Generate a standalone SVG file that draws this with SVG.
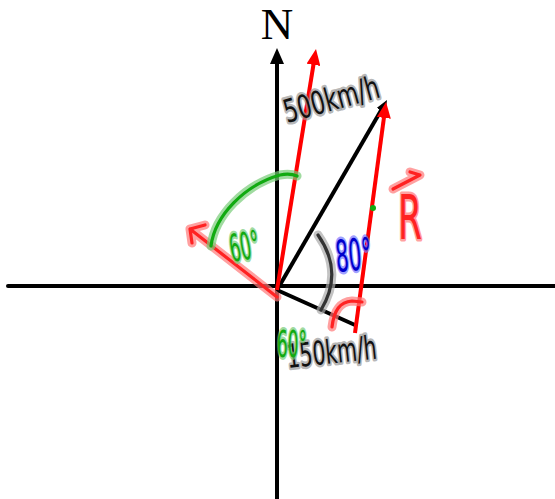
<svg xmlns="http://www.w3.org/2000/svg" width="555" height="499" viewBox="0 0 555 499">
<style>
.ax{stroke:#000;stroke-width:4;fill:none}
.vr{stroke:#f00;stroke-width:4;fill:none}
.vk{stroke:#000;stroke-width:4;fill:none}
.halo{fill:none;stroke-linecap:round;stroke-linejoin:round;stroke-width:9;stroke-opacity:0.7}
.ink{fill:none;stroke-linecap:round;stroke-linejoin:round;stroke-width:3.2}
.hw{font-family:"DejaVu Sans",sans-serif;paint-order:stroke;stroke-width:5;stroke-linejoin:round;stroke-opacity:0.7}
</style>
<defs>
<marker id="ahK" markerUnits="userSpaceOnUse" markerWidth="16" markerHeight="14" viewBox="0 0 16 14" refX="6" refY="7" orient="auto"><path d="M0,0 L16,7 L0,14 z" fill="#000"/></marker>
<marker id="ahKs" markerUnits="userSpaceOnUse" markerWidth="12" markerHeight="10" viewBox="0 0 12 10" refX="4" refY="5" orient="auto"><path d="M0,0 L12,5 L0,10 z" fill="#000"/></marker>
<marker id="ahR" markerUnits="userSpaceOnUse" markerWidth="16" markerHeight="14" viewBox="0 0 16 14" refX="6" refY="7" orient="auto"><path d="M0,0 L16,7 L0,14 z" fill="#f00"/></marker>
</defs>
<g id="axes">
<line class="ax" x1="8" y1="286" x2="555" y2="286" stroke-linecap="round"/>
<line class="ax" x1="277" y1="499" x2="277" y2="58" marker-end="url(#ahK)"/>
<text id="N" x="277" y="39" font-family="Liberation Serif,serif" font-size="45" text-anchor="middle">N</text>
</g>
<g id="connectors">
<line class="vk" x1="277" y1="290" x2="355" y2="325"/>
<line class="vk" x1="277" y1="290" x2="383" y2="107" marker-end="url(#ahKs)"/>
<line class="vr" x1="277" y1="290" x2="314.4" y2="58.9" marker-end="url(#ahR)"/>
<line class="vr" x1="355" y1="333" x2="384.7" y2="111.9" marker-end="url(#ahR)"/>
<circle cx="373" cy="208" r="3" fill="#1a1"/>
</g>
<g id="nw-arrow">
<path class="halo" stroke="#f77" d="M277,297 L190,229 M205,225 L190,229 L192,243"/>
<path class="ink" stroke="#f22" d="M277,297 L190,229 M205,225 L190,229 L192,243"/>
</g>
<g id="arcs">
<path class="halo" stroke="#7c7" d="M211,246 C215,215 245,185 280,175 Q290,173 297,176"/>
<path class="ink" stroke="#1a1" d="M211,246 C215,215 245,185 280,175 Q290,173 297,176"/>
<path class="halo" stroke="#aaa" d="M318,235 Q344,272 321,310"/>
<path class="ink" stroke="#333" d="M318,235 Q344,272 321,310"/>
<path class="halo" stroke="#f77" d="M332,327 C334,310 340,302 352,301 L362,302"/>
<path class="ink" stroke="#f22" d="M332,327 C334,310 340,302 352,301 L362,302"/>
</g>
<g id="labels">
<text class="hw" x="287" y="123" font-size="32" textLength="98" lengthAdjust="spacingAndGlyphs" fill="#111" stroke="#999" transform="rotate(-15.4 287 123)">500km/h</text>
<text class="hw" x="288" y="368" font-size="33" textLength="90" lengthAdjust="spacingAndGlyphs" fill="#111" stroke="#999" transform="rotate(-6 288 368)">150km/h</text>
<text class="hw" x="232" y="262" font-size="38" textLength="30" lengthAdjust="spacingAndGlyphs" fill="#1a1" stroke="#7c7" transform="rotate(-10 232 262)">60°</text>
<text class="hw" x="277" y="357" font-size="38" textLength="30" lengthAdjust="spacingAndGlyphs" fill="#1a1" stroke="#7c7">60°</text>
<text class="hw" x="337" y="272" font-size="44" textLength="36" lengthAdjust="spacingAndGlyphs" fill="#00c" stroke="#77f" transform="rotate(-5 337 272)">80°</text>
<g id="R-label">
<text class="hw" x="398" y="239" font-size="62" textLength="24" lengthAdjust="spacingAndGlyphs" fill="#f22" stroke="#f77">R</text>
<path class="halo" stroke="#f77" d="M393,189 L420,175 L410,172"/>
<path class="ink" stroke="#f22" d="M393,189 L420,175 L410,172"/>
</g>
</g>
</svg>
